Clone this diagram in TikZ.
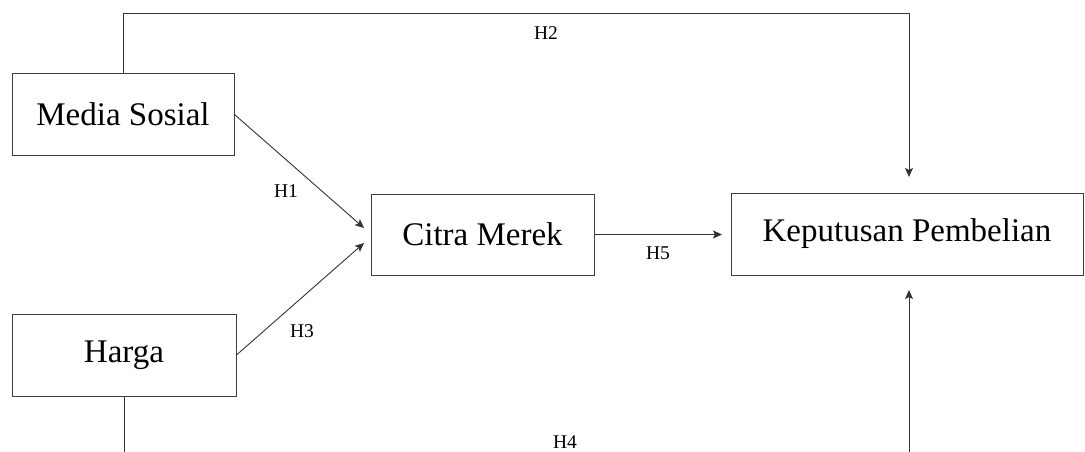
\documentclass[tikz,border=0pt]{standalone}
\usepackage{fontspec}
\setmainfont{Liberation Serif}
\usetikzlibrary{arrows.meta}
\begin{document}
\begin{tikzpicture}[x=1pt,y=-1pt,
  varbox/.style={draw=black!75,line width=1pt,fill=white,inner sep=0pt,
    font=\fontsize{33}{40}\selectfont,text=black},
  link/.style={draw=black!80,line width=0.9pt},
  arr/.style={link,-{Stealth[length=9pt,width=8pt,inset=2pt]}},
  hyp/.style={font=\fontsize{19.5}{23}\selectfont,text=black,inner sep=0pt}]
\useasboundingbox (0,0) rectangle (1085,452);
\clip (0,0) rectangle (1085,452);

% variables
\node[varbox,minimum width=222pt,minimum height=81pt] (ms) at (123,114.5) {Media Sosial};
\node[varbox,minimum width=224pt,minimum height=82pt] (hg) at (124,355) {Harga};
\node[varbox,minimum width=223pt,minimum height=81pt] (cm) at (482.5,234.5) {Citra Merek};
\node[varbox,minimum width=352pt,minimum height=82pt] (kp) at (907,234) {Keputusan Pembelian};

% arrow ends and corners
\coordinate (h1end) at (364,228);
\coordinate (h3end) at (364,243);
\coordinate (h2top) at (909,13);
\coordinate (h2end) at (909,177);
\coordinate (h4low) at (124,480);
\coordinate (h4end) at (909,290);
\coordinate (h5end) at (722,234.5);

% hypothesised paths
\draw[arr] (ms.east) -- (h1end);
\draw[arr] (hg.east) -- (h3end);
\draw[arr] (ms.north) |- (h2top) -- (h2end);
\draw[arr] (hg.south) -- (h4low) -| (h4end);
\draw[arr] (cm.east) -- (h5end);

% labels
\node[hyp] (l1) at (286,191) {H1};
\node[hyp] (l2) at (546,33) {H2};
\node[hyp] (l3) at (302,331) {H3};
\node[hyp] (l4) at (565,442) {H4};
\node[hyp] (l5) at (658,253) {H5};
\end{tikzpicture}
\end{document}
